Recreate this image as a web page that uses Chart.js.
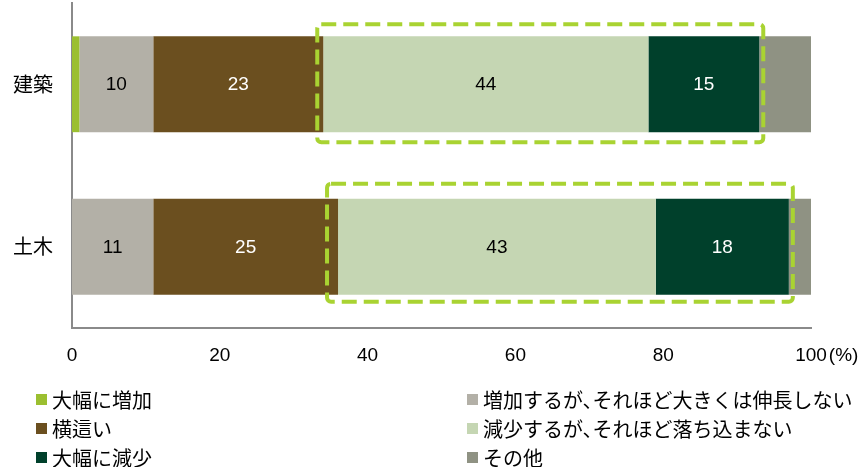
<!DOCTYPE html>
<html lang="ja">
<head>
<meta charset="utf-8">
<script src="https://cdn.jsdelivr.net/npm/chart.js@4.4.1/dist/chart.umd.min.js"></script>
<style>
	html, body { margin: 0; padding: 0; background: #fff; }
	#wrap { position: relative; width: 863px; height: 467px; overflow: hidden; }
	#chart { position: absolute; left: 0; top: 0; }
	.lg-col { position: absolute; top: 385px; font-family: 'Noto Sans CJK JP', sans-serif; font-size: 20px; line-height: 29px; color: #000; }
	.lg-item { display: flex; align-items: center; white-space: nowrap; height: 29px; }
	.lg-dot { width: 11px; height: 11px; margin-right: 5px; flex: none; }
	.lg-comma { margin-right: -10px; }
</style>
</head>
<body>
<div id="wrap">
	<canvas id="chart" width="863" height="467"></canvas>
	<div class="lg-col" id="lg-left" style="left:36px"></div>
	<div class="lg-col" id="lg-right" style="left:467px"></div>
</div>
<script>
// 今後の受注見通し（建築・土木）
const categories = ['建築', '土木'];
const seriesNames = [
	'大幅に増加',
	'増加するが、それほど大きくは伸長しない',
	'横這い',
	'減少するが、それほど落ち込まない',
	'大幅に減少',
	'その他'
];
const bigUp   = [1, 0];
const up      = [10, 11];
const flat    = [23, 25];
const down    = [44, 43];
const bigDown = [15, 18];
const other   = [7, 3];
const xTicks  = [0, 20, 40, 60, 80, 100];

const seriesData   = [bigUp, up, flat, down, bigDown, other];
const seriesColors = ['#9bbf30', '#b3b0a7', '#6b4f1f', '#c5d6b3', '#00402b', '#8f9283'];
const labelColors  = [null, '#000', '#fff', '#000', '#fff', null];

const NUM_FONT = '"Liberation Sans", Arial, sans-serif';
const JP_FONT = '"Noto Sans CJK JP", sans-serif';

// 数値ラベル（セグメント中央）
const valueLabels = {
	id: 'valueLabels',
	afterDatasetsDraw(chart) {
		const ctx = chart.ctx;
		ctx.save();
		ctx.font = '19px ' + NUM_FONT;
		ctx.textAlign = 'center';
		ctx.textBaseline = 'middle';
		chart.data.datasets.forEach((ds, di) => {
			if (!ds.labelColor) return;
			chart.getDatasetMeta(di).data.forEach((el, i) => {
				const v = ds.data[i];
				if (!v) return;
				ctx.fillStyle = ds.labelColor;
				ctx.fillText(String(v), (el.x + el.base) / 2, el.y + 1);
			});
		});
		ctx.restore();
	}
};

// 減少系を囲む破線枠
const dashBox = {
	id: 'dashBox',
	afterDatasetsDraw(chart, args, opts) {
		const ctx = chart.ctx, xs = chart.scales.x;
		const meta = chart.getDatasetMeta(0);
		ctx.save();
		ctx.strokeStyle = opts.color;
		ctx.lineWidth = opts.width;
		ctx.setLineDash(opts.dash);
		categories.forEach((_, i) => {
			let from = 0;
			for (let k = 0; k < opts.fromSeries; k++) from += seriesData[k][i];
			let to = from;
			for (let k = opts.fromSeries; k <= opts.toSeries; k++) to += seriesData[k][i];
			const el = meta.data[i];
			const p = opts.pads[i];
			const x1 = xs.getPixelForValue(from) - p.left;
			const x2 = xs.getPixelForValue(to) + p.right;
			const y1 = el.y - el.height / 2 - p.top;
			const y2 = el.y + el.height / 2 + p.bottom;
			ctx.beginPath();
			ctx.roundRect(x1, y1, x2 - x1, y2 - y1, 4);
			ctx.stroke();
		});
		ctx.restore();
	}
};

// 100 の後ろに (%) を付ける
const unitLabel = {
	id: 'unitLabel',
	afterDraw(chart) {
		const ctx = chart.ctx, xs = chart.scales.x;
		ctx.save();
		ctx.font = '19px ' + NUM_FONT;
		const w = ctx.measureText(String(xTicks[xTicks.length - 1])).width;
		ctx.fillStyle = '#000';
		ctx.textAlign = 'left';
		ctx.textBaseline = 'middle';
		ctx.fillText('(%)', xs.getPixelForValue(xTicks[xTicks.length - 1]) + w / 2 + 2, xs.top + 16 + 11.4);
		ctx.restore();
	}
};

new Chart(document.getElementById('chart'), {
	type: 'bar',
	data: {
		labels: categories,
		datasets: seriesNames.map((name, i) => ({
			label: name,
			data: seriesData[i],
			backgroundColor: seriesColors[i],
			borderWidth: 0,
			labelColor: labelColors[i],
			barPercentage: 1,
			categoryPercentage: 0.59
		}))
	},
	options: {
		indexAxis: 'y',
		responsive: false,
		animation: false,
		layout: { padding: { left: 0, right: 52, top: 3, bottom: 0 } },
		plugins: {
			legend: { display: false },
			tooltip: { enabled: false },
			dashBox: {
				color: '#a9d332', width: 4, dash: [15, 7],
				fromSeries: 3, toSeries: 4,
				pads: [
					{ top: 12, right: 4, bottom: 10, left: 6 },
					{ top: 15, right: 4, bottom: 7, left: 11 }
				]
			}
		},
		scales: {
			x: {
				stacked: true, min: 0, max: 100,
				afterBuildTicks: s => { s.ticks = xTicks.map(v => ({ value: v })); },
				ticks: { padding: 16, maxRotation: 0, color: '#000', font: { family: NUM_FONT, size: 19 } },
				grid: { display: false, drawTicks: false },
				border: { display: true, color: '#8a8a8a', width: 2 },
				afterFit: s => { s.height = 139; s.paddingLeft = 0; s.paddingRight = 0; }
			},
			y: {
				stacked: true,
				ticks: { padding: 19, color: '#000', font: { family: JP_FONT, size: 20 } },
				grid: { display: false, drawTicks: false },
				border: { display: true, color: '#8a8a8a', width: 2 },
				afterFit: s => { s.width = 72; s.paddingTop = 0; s.paddingBottom = 0; }
			}
		}
	},
	plugins: [valueLabels, dashBox, unitLabel]
});

// 凡例（2列）
function buildLegend() {
	const left = document.getElementById('lg-left');
	const right = document.getElementById('lg-right');
	seriesNames.forEach((name, i) => {
		const item = document.createElement('div');
		item.className = 'lg-item';
		const text = name.replace('、', '<span class="lg-comma">、</span>');
		item.innerHTML = `<span class="lg-dot" style="background:${seriesColors[i]}"></span><span>${text}</span>`;
		(i % 2 === 0 ? left : right).appendChild(item);
	});
}
buildLegend();
</script>
</body>
</html>
